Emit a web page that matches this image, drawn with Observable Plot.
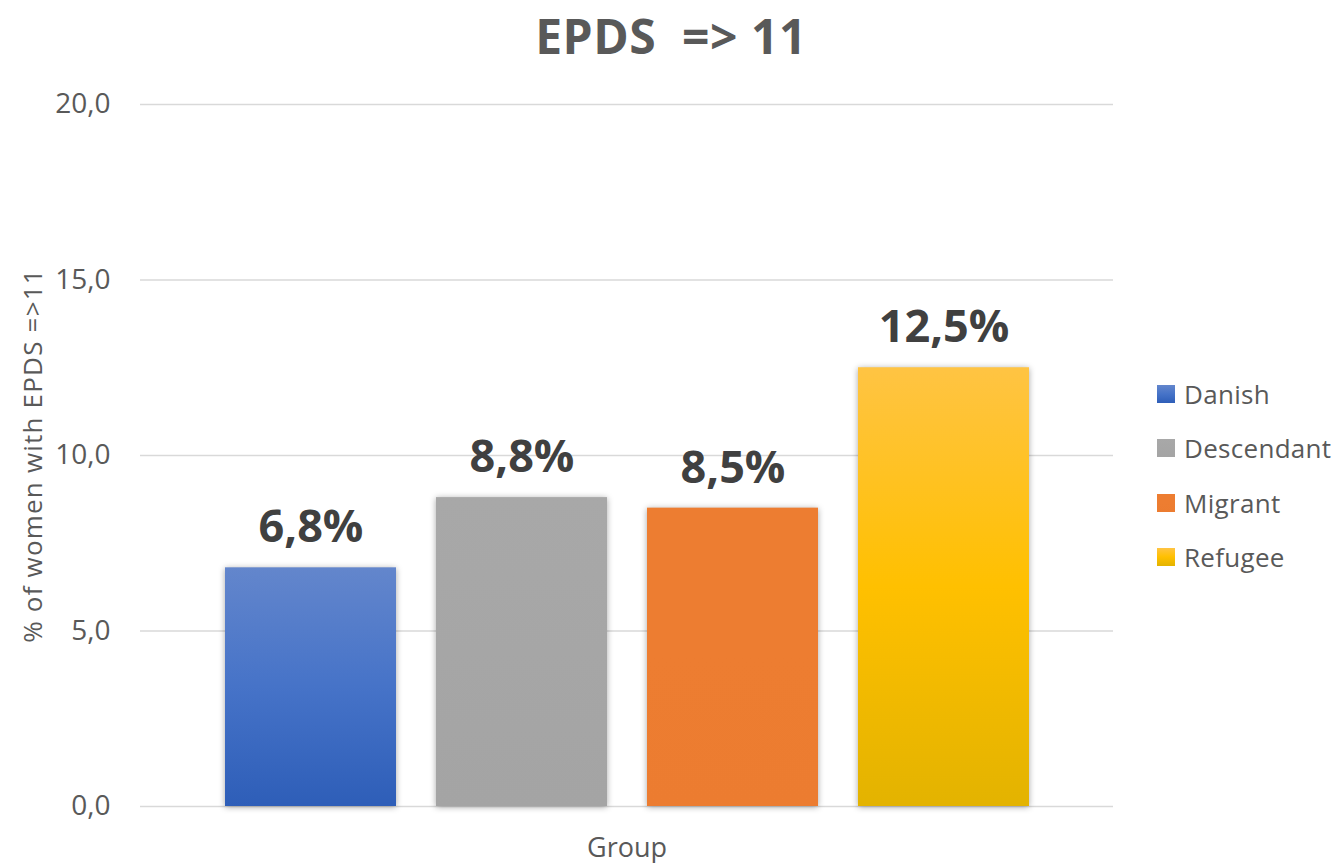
<!DOCTYPE html>
<html>
<head>
<meta charset="utf-8">
<script src="https://cdn.jsdelivr.net/npm/d3@7"></script>
<script src="https://cdn.jsdelivr.net/npm/@observablehq/plot@0.6"></script>
<style>
  html, body { margin: 0; padding: 0; background: #fff; }
  #wrap { position: relative; width: 1342px; height: 863px; overflow: hidden; font-family: "Open Sans", sans-serif; }
  #title { position: absolute; left: 0; top: 3px; width: 1342px; text-align: center; font-weight: 700; font-size: 48px; color: #595959; letter-spacing: 0.5px; }
  #chart { position: absolute; left: 0; top: 70px; }
  #legend { position: absolute; left: 1157px; top: 367px; }
  .li { display: flex; align-items: center; height: 54.3px; font-size: 26px; color: #595959; letter-spacing: 0.3px; }
  .li svg { margin-right: 9px; }
  g[aria-label="y-axis tick label"] { font-size: 28px; }
</style>
</head>
<body>
<div id="wrap">
  <div id="title">EPDS&nbsp; =&gt; 11</div>
  <div id="chart"></div>
  <div id="legend"></div>
</div>
<script>
const groups = ["Danish", "Descendant", "Migrant", "Refugee"];
const values = [6.8, 8.8, 8.5, 12.5];
const valueLabels = ["6,8%", "8,8%", "8,5%", "12,5%"];
const yTicks = [0, 5, 10, 15, 20];
const yTitle = "% of women with EPDS =>11";
const xTitle = "Group";
// gradient stops per group: top, middle, bottom
const gradTop = ["#6386cc", "#a8a8a8", "#ed7d31", "#ffc443"];
const gradMid = ["#4673c8", "#a6a6a6", "#ed7d31", "#ffc000"];
const gradBot = ["#2e5eb8", "#a4a4a4", "#ec7c30", "#e3b300"];

const data = groups.map((g, i) => ({ group: g, value: values[i], label: valueLabels[i] }));
const gradIds = groups.map((g, i) => "grad" + i);

const W = 1342, H = 793;
const plot = Plot.plot({
  width: W,
  height: H,
  marginLeft: 140,
  marginRight: 229,
  marginTop: 34,
  marginBottom: 57,
  style: { fontFamily: "Open Sans, sans-serif", background: "#fff", overflow: "visible" },
  x: { domain: groups, axis: null, paddingInner: 0.19, paddingOuter: 0.4 },
  y: { domain: [0, 20] },
  color: { domain: groups, range: gradIds.map(id => `url(#${id})`) },
  marks: [
    Plot.ruleY(yTicks, { stroke: "#d9d9d9", strokeWidth: 1.6 }),
    Plot.axisY({
      ticks: yTicks,
      tickSize: 0,
      tickPadding: 30,
      tickFormat: d => d.toFixed(1).replace(".", ","),
      fontSize: 28,
      fill: "#595959",
      label: null
    }),
    Plot.barY(data, { x: "group", y: "value", fill: "group" }),
    Plot.text(data, {
      x: "group", y: "value", text: "label", dy: -40,
      fontSize: 45, fontWeight: 700, fill: "#404040", lineAnchor: "middle"
    }),
    Plot.text([yTitle], {
      frameAnchor: "left", textAnchor: "middle", rotate: -90, dx: -107,
      fontSize: 26, fill: "#595959", text: d => d
    }),
    Plot.text([xTitle], {
      frameAnchor: "bottom", dy: 50,
      fontSize: 27, fill: "#595959", text: d => d
    })
  ]
});

// gradients
const ns = "http://www.w3.org/2000/svg";
const defs = document.createElementNS(ns, "defs");
gradIds.forEach((id, i) => {
  const lg = document.createElementNS(ns, "linearGradient");
  lg.setAttribute("id", id);
  lg.setAttribute("x1", "0"); lg.setAttribute("y1", "0");
  lg.setAttribute("x2", "0"); lg.setAttribute("y2", "1");
  [[0, gradTop[i]], [0.5, gradMid[i]], [1, gradBot[i]]].forEach(([o, c]) => {
    const s = document.createElementNS(ns, "stop");
    s.setAttribute("offset", o);
    s.setAttribute("stop-color", c);
    lg.appendChild(s);
  });
  defs.appendChild(lg);
});
plot.insertBefore(defs, plot.firstChild);
plot.querySelectorAll('g[aria-label="bar"] rect').forEach(r => {
  r.style.filter = "drop-shadow(0px 1px 3px rgba(0,0,0,0.35))";
});
plot.querySelectorAll("text").forEach(t => {
  if (t.textContent === yTitle) t.style.letterSpacing = "1.2px";
});
document.getElementById("chart").appendChild(plot);

// legend
const leg = document.getElementById("legend");
groups.forEach((g, i) => {
  const row = document.createElement("div");
  row.className = "li";
  row.innerHTML = `<svg width="18" height="18"><defs><linearGradient id="lg${i}" x1="0" y1="0" x2="0" y2="1"><stop offset="0" stop-color="${gradTop[i]}"/><stop offset="0.5" stop-color="${gradMid[i]}"/><stop offset="1" stop-color="${gradBot[i]}"/></linearGradient></defs><rect width="18" height="18" fill="url(#lg${i})"/></svg><span>${g}</span>`;
  leg.appendChild(row);
});
</script>
</body>
</html>
